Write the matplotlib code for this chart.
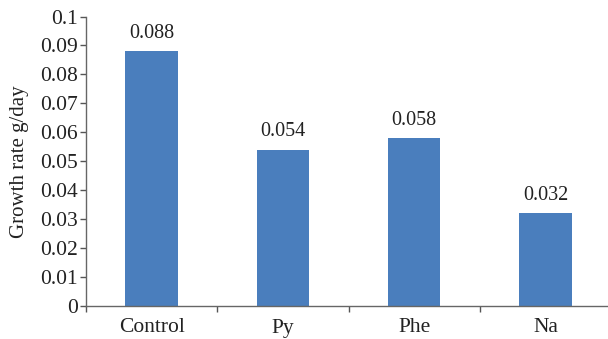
import matplotlib
matplotlib.use("Agg")
import matplotlib.pyplot as plt
import numpy as np

categories = ["Control", "Py", "Phe", "Na"]
values = [0.088, 0.054, 0.058, 0.032]
value_labels = ["0.088", "0.054", "0.058", "0.032"]
yticks = [0, 0.01, 0.02, 0.03, 0.04, 0.05, 0.06, 0.07, 0.08, 0.09, 0.1]
ytick_labels = ["0", "0.01", "0.02", "0.03", "0.04", "0.05", "0.06", "0.07", "0.08", "0.09", "0.1"]

plt.rcParams['font.family'] = ['Liberation Serif', 'DejaVu Serif']

fig = plt.figure(figsize=(6.08, 3.39), dpi=100)
W, H = 608, 339
ax = fig.add_axes([86 / W, (H - 306) / H, 525 / W, 289.5 / H])

x = np.arange(len(categories))
ax.bar(x, values, width=0.40, color="#4a7ebd", zorder=2)
for xi, v, lab in zip(x, values, value_labels):
    ax.annotate(lab, (xi, v), xytext=(0, 6), textcoords="offset points",
                ha="center", va="bottom", fontsize=14.5, color="#222222")

ax.set_xlim(-0.5, len(categories) - 0.5)
ax.set_ylim(0, 0.1)
ax.set_yticks(yticks)
ax.set_yticklabels(ytick_labels, fontsize=15.5, color="#222222")
ax.set_xticks(x)
ax.set_xticklabels(categories, fontsize=15.5, color="#222222")
ax.set_xticks(np.arange(len(categories) + 1) - 0.5, minor=True)
ax.tick_params(axis="x", which="major", length=0, pad=9)
ax.tick_params(axis="x", which="minor", length=4, direction="out", color="#555555", width=1)
ax.tick_params(axis="y", length=4, direction="out", color="#555555", width=1, pad=2)

ax.set_ylabel("Growth rate g/day", fontsize=15, color="#222222", labelpad=8)
for s in ["top", "right"]:
    ax.spines[s].set_visible(False)
for s in ["left", "bottom"]:
    ax.spines[s].set_color("#666666")
    ax.spines[s].set_linewidth(1)

fig.savefig("out.png", dpi=100)
